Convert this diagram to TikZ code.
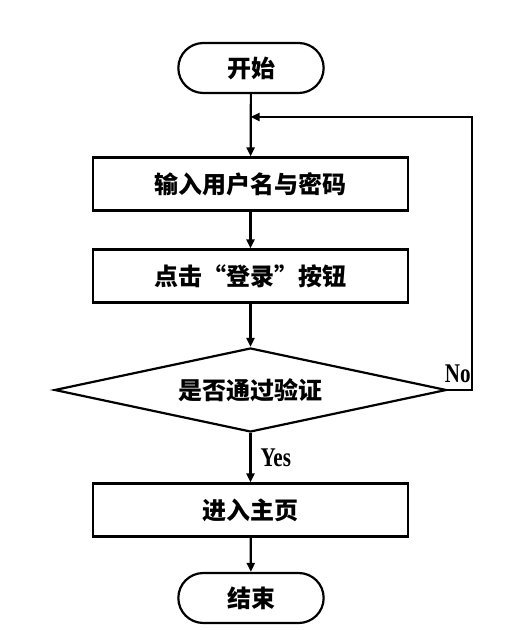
\documentclass[tikz,border=0pt]{standalone}
\usepackage{fontspec}
\newfontfamily\cjk{Noto Sans CJK SC}
\newfontfamily\yn[FakeStretch=0.78]{Liberation Serif}
\usetikzlibrary{shapes.misc,shapes.geometric,arrows.meta}
\begin{document}
\begin{tikzpicture}[x=1pt,y=1pt,
    every node/.style={font=\cjk\bfseries\fontsize{24pt}{24pt}\selectfont},
    term/.style={draw,rounded rectangle,minimum width=152pt,minimum height=50pt,line width=2.2pt},
    proc/.style={draw,rectangle,minimum width=315pt,minimum height=53pt,line width=2.2pt},
    decision/.style={draw,diamond,aspect=4.67,inner sep=0pt,minimum width=392pt,minimum height=84pt,line width=2.2pt},
    lab/.style={font=\yn\bfseries\fontsize{27pt}{27pt}\selectfont,inner sep=0pt},
    flow/.style={line width=2.2pt,-{Triangle[length=9pt,width=8pt]}}]
  \useasboundingbox (0,0) rectangle (506,630);
  \node[term] (start) at (251,562) {开始};
  \node[proc] (input) at (250.5,446) {输入用户名与密码};
  \node[proc] (click) at (250.5,354) {点击“登录”按钮};
  \node[decision] (check) at (250.5,240) {是否通过验证};
  \node[proc] (home) at (250.5,120) {进入主页};
  \node[term] (end) at (251,32) {结束};
  \coordinate (join) at (250.5,513);
  \coordinate (loop) at (472,240);
  \node[lab,anchor=south west,xshift=-3pt,yshift=7pt] (no) at (check.east) {No};
  \begin{scope}[flow]
    \draw (start) -- (input);
    \draw (input) -- (click);
    \draw (click) -- (check);
    \draw (check) -- node[lab,right,inner sep=9pt] (yes) {Yes} (home);
    \draw (home) -- (end);
    \draw (check.east) -- (loop) |- (join);
  \end{scope}
\end{tikzpicture}
\end{document}
